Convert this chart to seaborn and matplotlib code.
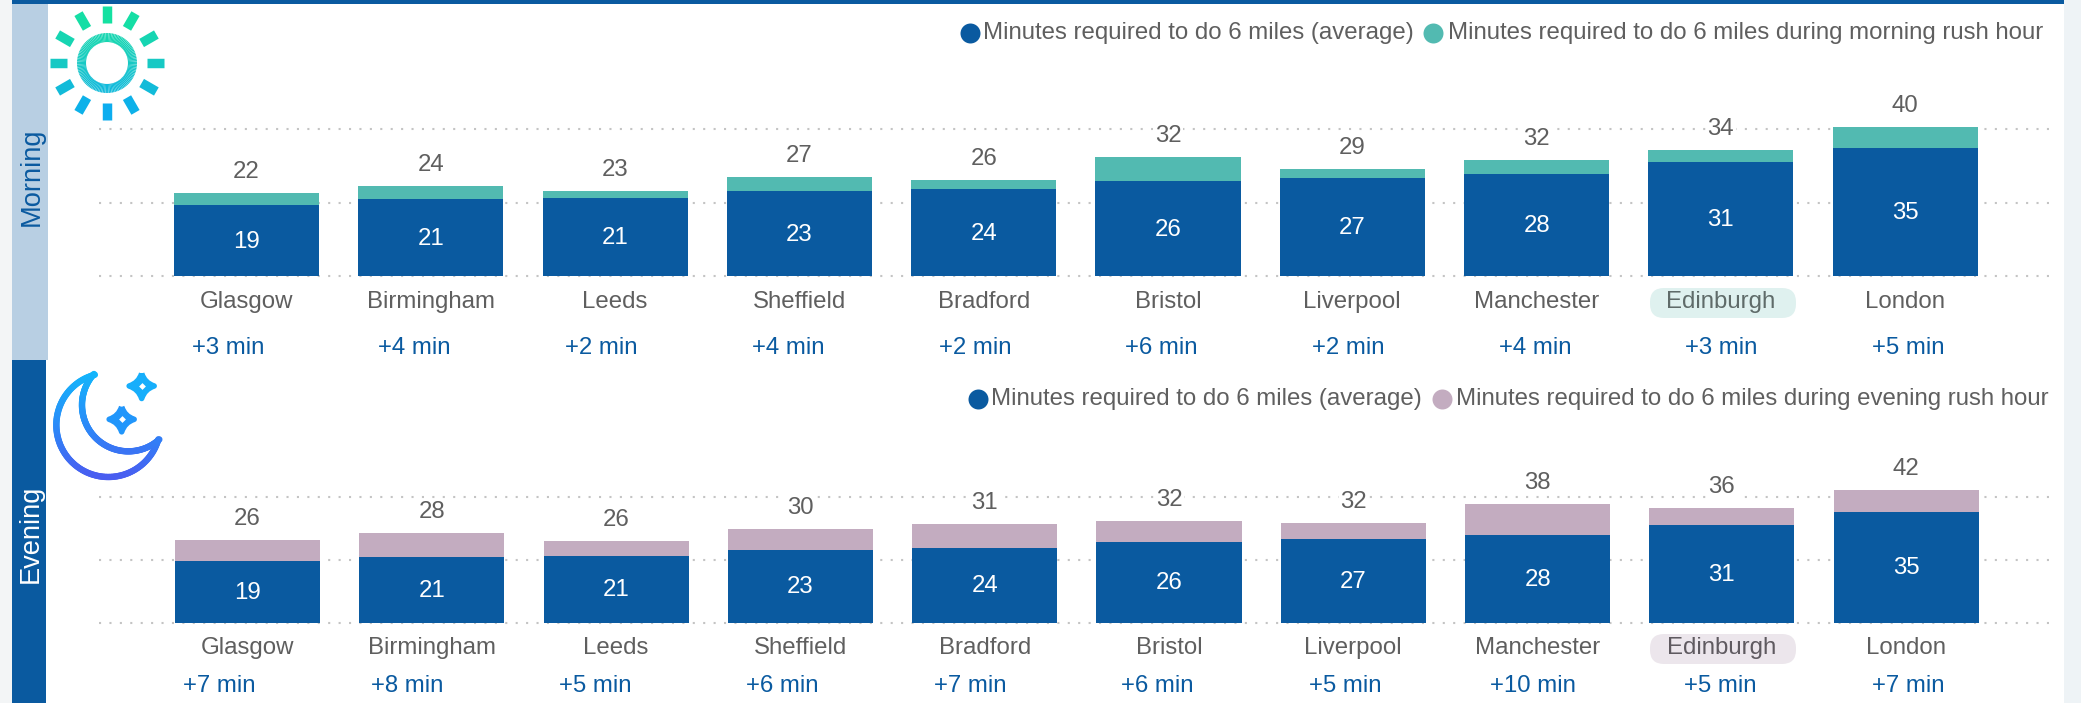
import numpy as np
import seaborn as sns
import matplotlib.pyplot as plt
from matplotlib.collections import LineCollection
from matplotlib.colors import LinearSegmentedColormap
from matplotlib.patches import FancyBboxPatch, PathPatch, Rectangle
from matplotlib.path import Path

cities = ['Glasgow', 'Birmingham', 'Leeds', 'Sheffield', 'Bradford', 'Bristol',
          'Liverpool', 'Manchester', 'Edinburgh', 'London']

# bar heights, labels as printed (they are rounded)
morning_avg = [19.4, 21.1, 21.3, 23.2, 23.8, 26.0, 26.8, 27.9, 31.1, 34.9]
morning_rush = [22.7, 24.6, 23.2, 27.0, 26.2, 32.5, 29.2, 31.7, 34.4, 40.6]
evening_avg = [19.6, 20.9, 21.2, 23.2, 23.8, 25.7, 26.7, 28.0, 31.2, 35.3]
evening_rush = [26.4, 28.6, 26.0, 29.9, 31.5, 32.4, 31.8, 37.9, 36.6, 42.3]

avg_labels = [19, 21, 21, 23, 24, 26, 27, 28, 31, 35]
morning_labels = [22, 24, 23, 27, 26, 32, 29, 32, 34, 40]
evening_labels = [26, 28, 26, 30, 31, 32, 32, 38, 36, 42]
morning_delta = [3, 4, 2, 4, 2, 6, 2, 4, 3, 5]
evening_delta = [7, 8, 5, 6, 7, 6, 5, 10, 5, 7]

y_ticks = [0, 20, 40]

BLUE = '#0a5aa0'
TEAL = '#52bab1'
MAUVE = '#c3acc0'
GREY = '#5f5f5f'
FS = 17.3

sns.set_theme(style='white')
plt.rcParams['font.family'] = ['Liberation Sans', 'DejaVu Sans']

W, H = 2081, 703
fig = plt.figure(figsize=(W / 100, H / 100), dpi=100, facecolor='white')

# page layer in pixel coordinates: bands, legends, icons, delta labels
page = fig.add_axes([0, 0, 1, 1], zorder=0)
page.set_xlim(0, W)
page.set_ylim(H, 0)
page.axis('off')

page.add_patch(Rectangle((0, 0), 12, H, color='#f3f5f6', lw=0))
page.add_patch(Rectangle((2064, 0), W - 2064, H, color='#eef3f6', lw=0))
page.add_patch(Rectangle((12, 0), 2052, 4, color=BLUE, lw=0))
page.add_patch(Rectangle((12, 4), 36, 356, color='#b8cfe3', lw=0))
page.add_patch(Rectangle((12, 360), 34, H - 360, color=BLUE, lw=0))
page.text(32, 177, 'Morning', rotation=90, color=BLUE, fontsize=19.6, ha='center', va='center')
page.text(31, 533.5, 'Evening', rotation=90, color='white', fontsize=19.6, ha='center', va='center')


def draw_panel(base_px, px_per_unit, avg, rush, rush_labels, rush_color, shift=0):
    left, right = 99, 2051
    top_px = base_px - 48 * px_per_unit
    ax = fig.add_axes([left / W, 1 - base_px / H, (right - left) / W, (base_px - top_px) / H], zorder=1)
    ax.patch.set_alpha(0)
    sns.barplot(x=cities, y=rush, color=rush_color, width=0.787, saturation=1, linewidth=0, ax=ax, zorder=3)
    sns.barplot(x=cities, y=avg, color=BLUE, width=0.787, saturation=1, linewidth=0, ax=ax, zorder=3)
    ax.set_xlim((left - 246.5 - shift) / 184.3, (right - 246.5 - shift) / 184.3)
    ax.set_ylim(0, 48)
    ax.set_yticks(y_ticks)
    ax.set_yticklabels([])
    ax.tick_params(axis='both', length=0)
    ax.tick_params(axis='x', pad=10.7, labelsize=FS, labelcolor=GREY)
    ax.set_xlabel('')
    ax.set_ylabel('')
    ax.set_axisbelow(True)
    ax.grid(axis='y', color='#c4c4c4', lw=1.5, linestyle=(0, (1, 4)))
    for line in ax.get_ygridlines():
        line.set_clip_on(False)
    sns.despine(ax=ax, left=True, bottom=True)
    for i in range(len(cities)):
        ax.annotate(str(avg_labels[i]), (i, avg[i] / 2), xytext=(0, -0.8), textcoords='offset points',
                    color='white', fontsize=FS, ha='center', va='center', zorder=5)
        ax.annotate(str(rush_labels[i]), (i, rush[i]), xytext=(0, 15.2), textcoords='offset points',
                    color=GREY, fontsize=FS, ha='center', va='center', zorder=4,
                    bbox=dict(facecolor='white', edgecolor='none', pad=1))
    return ax


ax_m = draw_panel(276.5, 3.68, morning_avg, morning_rush, morning_labels, TEAL)
ax_e = draw_panel(622.5, 3.13, evening_avg, evening_rush, evening_labels, MAUVE, shift=1)
ax_m.get_xticklabels()[8].set_color('#5f6b69')
ax_e.get_xticklabels()[8].set_color('#5f5a60')

# highlight pills behind Edinburgh
for y0, col in [(288, '#dff1ef'), (634, '#ece6ec')]:
    page.add_patch(FancyBboxPatch((1650 + 14, y0 + 14), 146 - 28, 30 - 28, fc=col, ec='none',
                                  boxstyle='round,pad=14,rounding_size=14'))

# delta row, it does not line up exactly with the bars in the original
for i, d in enumerate(morning_delta):
    page.text(228 + 186.7 * i, 348.5, f'+{d} min', color=BLUE, fontsize=FS, ha='center', va='center')
for i, d in enumerate(evening_delta):
    page.text(219.6 + 187.6 * i, 686, f'+{d} min', color=BLUE, fontsize=FS, ha='center', va='center')


# legends
def legend_row(y, x1, t1, x2, t2, rush_color, rush_text):
    page.scatter([x1], [y], s=207, color=BLUE, lw=0)
    page.text(t1, y, 'Minutes required to do 6 miles (average)', color=GREY, fontsize=FS, ha='left', va='center')
    page.scatter([x2], [y], s=207, color=rush_color, lw=0)
    page.text(t2, y, rush_text, color=GREY, fontsize=FS, ha='left', va='center')


legend_row(33, 970, 983, 1433, 1448, TEAL, 'Minutes required to do 6 miles during morning rush hour')
legend_row(399, 978, 991, 1442, 1456, MAUVE, 'Minutes required to do 6 miles during evening rush hour')

# sun icon
sun_cmap = LinearSegmentedColormap.from_list('sun', ['#14e59a', '#17c9c4', '#0aa8f7'])
cx, cy = 107, 63
t = np.linspace(0, 2 * np.pi, 121)
rx, ry = cx + 25.5 * np.cos(t), cy + 25.5 * np.sin(t)
ring = [[(rx[i], ry[i]), (rx[i + 1], ry[i + 1])] for i in range(120)]
ring_colors = sun_cmap(((ry[:-1] + ry[1:]) / 2 - cy + 57) / 114)
page.add_collection(LineCollection(ring, colors=ring_colors, linewidths=6.5))
for a in np.arange(12) * np.pi / 6:
    y_mid = cy + 48 * np.sin(a)
    page.plot([cx + 40 * np.cos(a), cx + 57 * np.cos(a)], [cy + 40 * np.sin(a), cy + 57 * np.sin(a)],
              color=sun_cmap((y_mid - cy + 57) / 114), lw=6.8, solid_capstyle='butt')

# moon icon
moon_cmap = LinearSegmentedColormap.from_list('moon', ['#12b8fb', '#2a8cf8', '#4a5cf0'])


def moon_arc(mx, my, r, a0, a1):
    a = np.radians(np.linspace(a0, a1, 120))
    x = (mx + r * np.cos(a)) / 3
    y = 360 + (my + r * np.sin(a)) / 3
    segs = [[(x[i], y[i]), (x[i + 1], y[i + 1])] for i in range(119)]
    colors = moon_cmap(np.clip((y[:-1] - 372) / (478 - 372), 0, 1))
    page.add_collection(LineCollection(segs, colors=colors, linewidths=4.6, capstyle='round'))


moon_arc(325, 195, 156, 255, 16)
moon_arc(385, 135, 139, 222, 48)


def star(sx, sy, arm, col):
    c = 3
    verts = [(sx, sy - arm), (sx + c, sy - c), (sx + arm, sy), (sx + c, sy + c), (sx, sy + arm),
             (sx - c, sy + c), (sx - arm, sy), (sx - c, sy - c), (sx, sy - arm)]
    codes = [Path.MOVETO] + [Path.CURVE3] * 8
    page.add_patch(PathPatch(Path(verts, codes), fc=col, ec=col, lw=4, joinstyle='round'))
    page.scatter([sx], [sy], s=12, marker='D', color='white', lw=0, zorder=5)


star(425 / 3, 360 + 78 / 3, 12.5, '#17aefb')
star(365 / 3, 360 + 178 / 3, 12.5, '#2196fb')

page.set_xlim(0, W)
page.set_ylim(H, 0)

fig.savefig('out.png', dpi=100)
